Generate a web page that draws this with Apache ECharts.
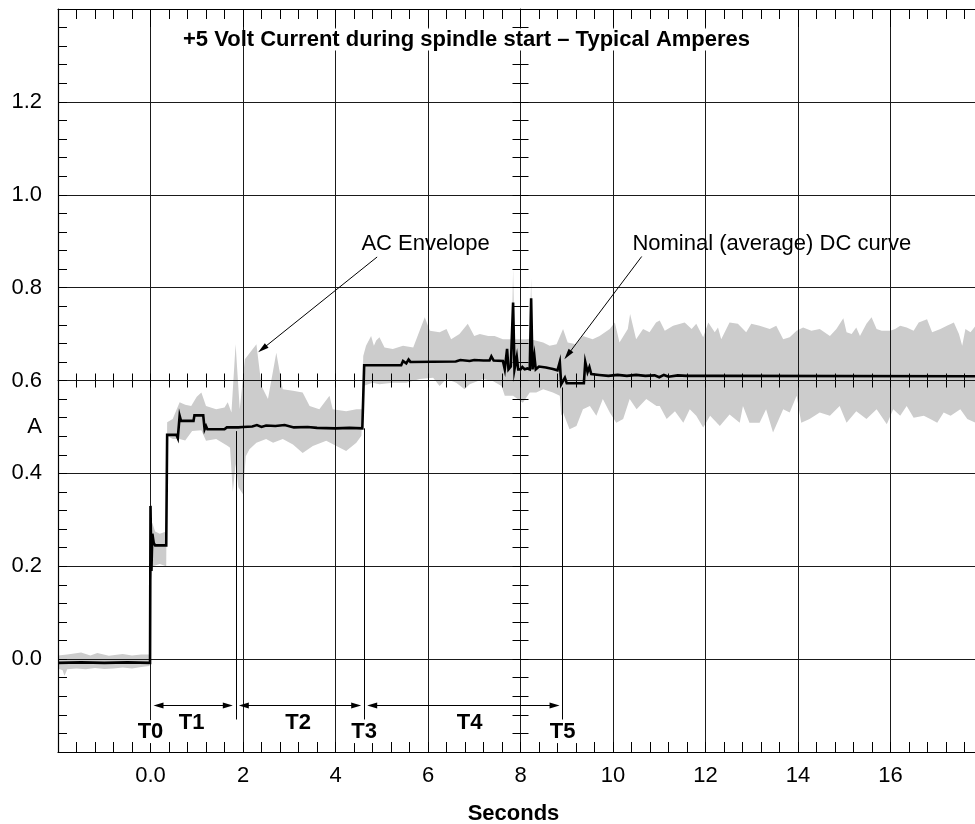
<!DOCTYPE html>
<html>
<head>
<meta charset="utf-8">
<script src="https://cdn.jsdelivr.net/npm/echarts@6/dist/echarts.min.js"></script>
<style>html,body{margin:0;padding:0;background:#fff}#c{width:975px;height:824px}</style>
</head>
<body>
<div id="c"></div>
<script>
// ---------------- data ----------------
const xTickValues = [0, 2, 4, 6, 8, 10, 12, 14, 16];
const yTickValues = [0, 0.2, 0.4, 0.6, 0.8, 1.0, 1.2];

// nominal (average) DC curve [seconds, amperes]
const dcCurve = [
[-2,-0.008],[-1.5,-0.007],[-1,-0.008],[-0.5,-0.007],[-0.01,-0.008],
[0.0,0.33],[0.02,0.19],[0.04,0.27],[0.07,0.25],[0.1,0.245],[0.34,0.245],
[0.36,0.483],[0.56,0.483],[0.59,0.476],[0.63,0.524],[0.66,0.513],[0.93,0.513],[0.95,0.525],[1.14,0.525],
[1.17,0.495],[1.2,0.502],[1.23,0.495],[1.6,0.495],[1.65,0.499],[1.9,0.499],[2.0,0.5],[2.2,0.501],[2.3,0.504],
[2.4,0.5],[2.5,0.503],[2.7,0.502],[2.9,0.504],[3.1,0.499],[3.4,0.5],[3.6,0.498],[4.0,0.497],[4.3,0.498],[4.58,0.497],
[4.62,0.633],[5.42,0.633],[5.46,0.642],[5.53,0.637],[5.58,0.645],[5.62,0.64],[6.6,0.641],[6.7,0.644],[6.9,0.642],
[7.0,0.644],[7.2,0.643],[7.33,0.643],[7.37,0.652],[7.42,0.643],[7.62,0.642],
[7.66,0.624],[7.71,0.668],[7.74,0.624],[7.79,0.63],[7.84,0.768],[7.87,0.624],[7.92,0.651],[7.95,0.624],[8.0,0.624],
[8.04,0.629],[8.09,0.624],[8.15,0.626],[8.2,0.624],[8.23,0.777],[8.26,0.624],[8.3,0.653],[8.33,0.624],[8.4,0.63],
[8.55,0.628],[8.7,0.625],[8.8,0.622],[8.85,0.64],[8.88,0.592],[8.96,0.606],[9.0,0.594],[9.37,0.594],
[9.4,0.64],[9.45,0.618],[9.49,0.629],[9.53,0.614],[9.7,0.612],[9.9,0.61],[10.1,0.612],[10.3,0.61],[10.5,0.612],
[10.7,0.61],[10.9,0.611],[11.0,0.607],[11.1,0.612],[11.2,0.608],[11.4,0.611],[11.6,0.61],[12.2,0.61],[18,0.609]
];

// AC envelope, upper bound [seconds, amperes]
const envUpper = [
[-2,0.008],[-1.8,0.01],[-1.5,0.014],[-1.3,0.008],[-1.15,0.013],[-0.9,0.007],[-0.6,0.011],[-0.4,0.008],[-0.2,0.01],[-0.02,0.01],
[0.01,0.3],[0.05,0.29],[0.1,0.275],[0.2,0.27],[0.34,0.275],
[0.36,0.51],[0.48,0.517],[0.63,0.553],[0.75,0.548],[0.88,0.545],[1.0,0.565],[1.1,0.574],[1.2,0.545],[1.42,0.538],
[1.6,0.542],[1.67,0.553],[1.75,0.531],[1.84,0.678],[1.93,0.538],[2.04,0.646],[2.29,0.678],[2.4,0.588],[2.54,0.56],
[2.72,0.66],[2.86,0.581],[3.08,0.578],[3.29,0.574],[3.44,0.545],[3.65,0.538],[3.87,0.567],[3.94,0.538],[4.23,0.534],
[4.45,0.538],[4.57,0.538],
[4.6,0.653],[4.66,0.675],[4.77,0.696],[4.83,0.675],[4.88,0.686],[4.95,0.693],[5.06,0.671],[5.24,0.668],[5.46,0.675],
[5.68,0.671],[5.93,0.736],[6.04,0.707],[6.25,0.704],[6.4,0.711],[6.5,0.689],[6.68,0.7],[6.86,0.722],[7.0,0.696],
[7.12,0.7],[7.3,0.696],[7.44,0.696],[7.62,0.689],[7.81,0.689],[7.84,0.84],[7.87,0.689],[8.12,0.689],[8.2,0.69],
[8.23,0.82],[8.26,0.688],[8.49,0.682],[8.63,0.675],[8.78,0.678],[8.92,0.711],[9.02,0.682],[9.2,0.678],[9.35,0.696],
[9.56,0.689],[9.71,0.696],[9.93,0.711],[10.04,0.725],[10.14,0.682],[10.32,0.711],[10.37,0.743],[10.5,0.689],
[10.65,0.711],[10.79,0.704],[10.93,0.725],
[11.01,0.729],[11.12,0.707],[11.3,0.718],[11.55,0.725],[11.7,0.711],[11.8,0.722],[11.95,0.693],[12.06,0.725],
[12.2,0.704],[12.27,0.714],[12.34,0.689],[12.52,0.725],[12.7,0.722],[12.88,0.704],[12.99,0.722],[13.17,0.718],
[13.39,0.711],[13.53,0.718],[13.68,0.689],[13.82,0.693],[13.97,0.707],[14.11,0.714],[14.29,0.707],[14.47,0.711],
[14.69,0.696],[14.83,0.711],[14.98,0.734],[15.05,0.704],[15.16,0.7],[15.26,0.714],[15.34,0.696],[15.48,0.722],
[15.59,0.736],[15.7,0.711],[15.81,0.707],[15.99,0.707],[16.1,0.711],[16.21,0.718],[16.35,0.714],[16.5,0.707],
[16.61,0.725],[16.79,0.732],[16.9,0.704],[17.08,0.711],[17.22,0.718],[17.37,0.725],[17.48,0.7],[17.55,0.675],
[17.62,0.711],[17.73,0.704],[17.84,0.718],[18,0.712]
];

// AC envelope, lower bound [seconds, amperes]
const envLower = [
[-2,-0.02],[-1.9,-0.024],[-1.86,-0.036],[-1.8,-0.022],[-1.6,-0.02],[-1.4,-0.022],[-1.2,-0.019],[-1.0,-0.021],
[-0.8,-0.02],[-0.6,-0.018],[-0.4,-0.02],[-0.2,-0.017],[-0.02,-0.015],
[0.01,0.17],[0.05,0.2],[0.2,0.205],[0.34,0.2],
[0.36,0.481],[0.48,0.474],[0.63,0.474],[0.75,0.471],[0.9,0.491],[1.1,0.493],[1.2,0.47],[1.42,0.474],[1.67,0.459],
[1.72,0.455],[1.78,0.36],[1.84,0.42],[1.9,0.37],[2.0,0.355],[2.06,0.437],[2.14,0.452],[2.29,0.466],[2.5,0.474],
[2.65,0.466],[2.86,0.474],[3.08,0.462],[3.29,0.444],[3.51,0.459],[3.8,0.47],[4.02,0.459],[4.23,0.448],[4.45,0.466],
[4.56,0.481],
[4.6,0.588],[4.8,0.595],[4.95,0.592],[5.24,0.595],[5.53,0.595],[5.82,0.603],[6.11,0.606],[6.25,0.588],[6.4,0.603],
[6.61,0.595],[6.79,0.581],[6.9,0.592],[7.19,0.603],[7.4,0.599],[7.59,0.588],[7.66,0.567],[7.84,0.567],[8.05,0.552],
[8.2,0.574],[8.34,0.574],[8.49,0.581],[8.7,0.574],[8.85,0.567],[8.88,0.524],[8.92,0.531],[9.06,0.495],[9.21,0.502],
[9.35,0.538],[9.5,0.545],[9.64,0.524],[9.78,0.56],[9.93,0.531],[10.07,0.509],[10.22,0.517],[10.36,0.56],[10.51,0.538],
[10.72,0.56],[10.94,0.545],
[11.01,0.545],[11.16,0.517],[11.34,0.534],[11.52,0.509],[11.66,0.538],[11.8,0.524],[11.95,0.499],[12.1,0.524],
[12.31,0.502],[12.52,0.527],[12.74,0.509],[12.81,0.545],[12.95,0.509],[13.17,0.509],[13.31,0.538],[13.46,0.488],
[13.68,0.538],[13.82,0.531],[13.97,0.567],[14.07,0.509],[14.25,0.517],[14.47,0.531],[14.69,0.524],[14.9,0.545],
[15.05,0.509],[15.26,0.534],[15.48,0.517],[15.7,0.538],[15.92,0.506],[16.06,0.538],[16.21,0.524],[16.35,0.545],
[16.5,0.52],[16.72,0.524],[16.86,0.517],[17.01,0.509],[17.15,0.531],[17.3,0.524],[17.51,0.538],[17.66,0.517],
[17.84,0.509],[18,0.515]
];

// phase boundaries T0..T5 (seconds) and where their marker lines start
const phaseBounds = [0, 1.845, 4.62, 8.91];
const phaseLineTop = [null, 0.491, 0.497, 0.585];
const phaseLineBottom = -0.13;
const dimArrowLevel = -0.1;
const phaseLabels = ['T0', 'T1', 'T2', 'T3', 'T4', 'T5'];
const phaseLabelT = [0, 0.887, 3.19, 4.62, 6.9, 8.91];
const phaseLabelV = [-0.156, -0.137, -0.137, -0.156, -0.137, -0.156];

// annotations
const annoTexts = ['AC Envelope', 'Nominal (average) DC curve'];
const annoTextPos = [[4.56, 0.895], [10.42, 0.895]];
const annoArrowFrom = [[4.9, 0.866], [10.62, 0.867]];
const annoArrowTo = [[2.42, 0.668], [9.02, 0.655]];
const unitLabel = 'A';
const unitLabelValue = 0.5;

// ---------------- chart ----------------
const FONT = '"Liberation Sans", Arial, Helvetica, sans-serif';
const GL = 58, GT = 9, GW = 925, GH = 743;
const XMIN = -2, XMAX = 18, YMIN = -0.2, YMAX = 1.4;
const secPerPx = (XMAX - XMIN) / GW;
const INK = '#000';
const GRID = '#1a1a1a';

const near = (arr, v) => arr.some(t => Math.abs(t - v) < 1e-6);

function baseX(extra) {
  return Object.assign({
    type: 'value', min: XMIN, max: XMAX, interval: 2, gridIndex: 0, z: 2,
    axisLine: { show: true, onZero: false, lineStyle: { color: INK, width: 1.2 } },
    axisTick: { show: true, inside: true, length: 10, lineStyle: { color: INK, width: 1 } },
    minorTick: { show: true, splitNumber: 5, length: 10, lineStyle: { color: INK, width: 1 } },
    axisLabel: { show: false },
    splitLine: { show: false }
  }, extra);
}
function baseY(extra) {
  return Object.assign({
    type: 'value', min: YMIN, max: YMAX, interval: 0.2, gridIndex: 0, z: 2,
    axisLine: { show: true, onZero: false, lineStyle: { color: INK, width: 1.2 } },
    axisTick: { show: true, inside: true, length: 9, lineStyle: { color: INK, width: 1 } },
    minorTick: { show: true, splitNumber: 5, length: 9, lineStyle: { color: INK, width: 1 } },
    axisLabel: { show: false },
    splitLine: { show: false }
  }, extra);
}

const xAxes = [
  baseX({
    position: 'bottom',
    axisLabel: {
      show: true, fontSize: 22, color: INK, fontFamily: FONT, margin: 13, hideOverlap: false,
      formatter: v => near(xTickValues, v) ? (Math.abs(v) < 1e-9 ? '0.0' : String(v)) : ''
    },
    splitLine: { show: true, lineStyle: { color: GRID, width: 1 } },
    name: 'Seconds', nameLocation: 'middle', nameGap: 51,
    nameTextStyle: { fontSize: 22, fontWeight: 'bold', color: INK, fontFamily: FONT, padding: [0, 14, 0, 0] }
  }),
  baseX({ position: 'top', axisTick: { show: true, inside: true, length: 18, lineStyle: { color: INK, width: 1 } } }),
  // centre crosshair at 0.6 A (ticks on both sides)
  baseX({ position: 'bottom', offset: -GH / 2, axisLine: { show: true, onZero: false, lineStyle: { color: GRID, width: 1 } },
    axisTick: { show: true, inside: true, length: 7, lineStyle: { color: INK, width: 1 } },
    minorTick: { show: true, splitNumber: 5, length: 7, lineStyle: { color: INK, width: 1 } } }),
  baseX({ position: 'bottom', offset: -GH / 2, axisLine: { show: false, onZero: false },
    axisTick: { show: true, inside: false, length: 7, lineStyle: { color: INK, width: 1 } },
    minorTick: { show: true, splitNumber: 5, length: 7, lineStyle: { color: INK, width: 1 } } })
];
const yAxes = [
  baseY({
    position: 'left',
    axisLabel: {
      show: true, fontSize: 22, color: INK, fontFamily: FONT, margin: 16, hideOverlap: false, padding: [4, 0, 0, 0],
      formatter: v => near(yTickValues, v) ? v.toFixed(1) : ''
    },
    splitLine: { show: true, lineStyle: { color: GRID, width: 1 } }
  }),
  // centre crosshair at 8 s (ticks on both sides)
  baseY({ position: 'left', offset: -GW / 2, axisLine: { show: true, onZero: false, lineStyle: { color: GRID, width: 1 } },
    axisTick: { show: true, inside: true, length: 8, lineStyle: { color: INK, width: 1 } },
    minorTick: { show: true, splitNumber: 5, length: 8, lineStyle: { color: INK, width: 1 } } }),
  baseY({ position: 'left', offset: -GW / 2, axisLine: { show: false, onZero: false },
    axisTick: { show: true, inside: false, length: 8, lineStyle: { color: INK, width: 1 } },
    minorTick: { show: true, splitNumber: 5, length: 8, lineStyle: { color: INK, width: 1 } } })
];

// phase marker lines
const phaseLineData = [];
phaseBounds.forEach((t, i) => {
  if (phaseLineTop[i] == null) return;
  phaseLineData.push([{ coord: [t, phaseLineTop[i]] }, { coord: [t, phaseLineBottom] }]);
});
// dimension arrows between boundaries
const ARROW_H = 10, ARROW_W = 6, ARROW_GAP_PX = 3;
const inset = (ARROW_GAP_PX + ARROW_H / 2) * secPerPx;
const dimArrowData = [];
for (let i = 0; i < phaseBounds.length - 1; i++) {
  dimArrowData.push([
    { coord: [phaseBounds[i] + inset, dimArrowLevel], symbol: 'triangle', symbolSize: [ARROW_W, ARROW_H] },
    { coord: [phaseBounds[i + 1] - inset, dimArrowLevel], symbol: 'triangle', symbolSize: [ARROW_W, ARROW_H] }
  ]);
}
const annoArrowData = annoArrowFrom.map((f, i) => [
  { coord: f, symbol: 'none' },
  { coord: annoArrowTo[i], symbol: 'triangle', symbolSize: [6, 11] }
]);

const labelItems = [];
phaseLabels.forEach((s, i) => labelItems.push({
  value: [phaseLabelT[i], phaseLabelV[i]],
  label: { show: true, position: 'inside', formatter: s, fontSize: 22, fontWeight: 'bold', color: INK,
    fontFamily: FONT, backgroundColor: '#fff', padding: [1, 2, 0, 2], opacity: 1 }
}));
annoTexts.forEach((s, i) => labelItems.push({
  value: annoTextPos[i],
  label: { show: true, position: 'right', distance: 0, formatter: s, fontSize: 22, color: INK, fontFamily: FONT, opacity: 1 }
}));
labelItems.push({
  value: [XMIN, unitLabelValue],
  label: { show: true, position: 'left', distance: 16, formatter: unitLabel, fontSize: 22, color: INK, fontFamily: FONT, opacity: 1 }
});

const option = {
  animation: false,
  backgroundColor: '#fff',
  textStyle: { fontFamily: FONT, color: INK },
  grid: { left: GL, top: GT, width: GW, height: GH, containLabel: false, outerBoundsMode: 'none' },
  title: {
    text: '{a|+5 Volt }{b|Current during spindle start – Typical Amperes}',
    left: 183, top: 27, padding: 0, z: 10,
    textStyle: {
      rich: {
        a: { fontSize: 22, fontWeight: 'bold', color: INK, fontFamily: FONT, lineHeight: 25 },
        b: { fontSize: 22, fontWeight: 'bold', color: INK, fontFamily: FONT, lineHeight: 25, backgroundColor: '#fff' }
      }
    }
  },
  xAxis: xAxes,
  yAxis: yAxes,
  series: [
    {
      name: 'AC Envelope', type: 'custom', xAxisIndex: 0, yAxisIndex: 0, z: 1, silent: true,
      data: [[0, 0]],
      renderItem: function (params, api) {
        if (params.dataIndex !== 0) return null;
        const pts = envUpper.map(p => api.coord(p))
          .concat(envLower.slice().reverse().map(p => api.coord(p)));
        return { type: 'polygon', shape: { points: pts }, style: { fill: '#cccccc', stroke: null } };
      }
    },
    {
      name: 'Nominal DC', type: 'line', xAxisIndex: 0, yAxisIndex: 0, z: 5, silent: true,
      data: dcCurve, showSymbol: false, symbol: 'none',
      lineStyle: { color: INK, width: 2.6, join: 'miter' }
    },
    {
      name: 'phase lines', type: 'line', xAxisIndex: 0, yAxisIndex: 0, z: 4, silent: true, data: [],
      markLine: { silent: true, symbol: ['none', 'none'], label: { show: false },
        lineStyle: { color: INK, width: 1, type: 'solid' }, data: phaseLineData }
    },
    {
      name: 'phase arrows', type: 'line', xAxisIndex: 0, yAxisIndex: 0, z: 4, silent: true, data: [],
      markLine: { silent: true, label: { show: false },
        itemStyle: { color: INK }, lineStyle: { color: INK, width: 1, type: 'solid' }, data: dimArrowData }
    },
    {
      name: 'annotation arrows', type: 'line', xAxisIndex: 0, yAxisIndex: 0, z: 6, silent: true, data: [],
      markLine: { silent: true, label: { show: false },
        itemStyle: { color: INK }, lineStyle: { color: INK, width: 1, type: 'solid' }, data: annoArrowData }
    },
    {
      name: 'labels', type: 'scatter', xAxisIndex: 0, yAxisIndex: 0, z: 7, silent: true, clip: false,
      symbol: 'circle', symbolSize: 0, itemStyle: { color: INK, opacity: 1 },
      data: labelItems
    }
  ]
};

const chart = echarts.init(document.getElementById('c'), null, { renderer: 'canvas' });
chart.setOption(option);
</script>
</body>
</html>
